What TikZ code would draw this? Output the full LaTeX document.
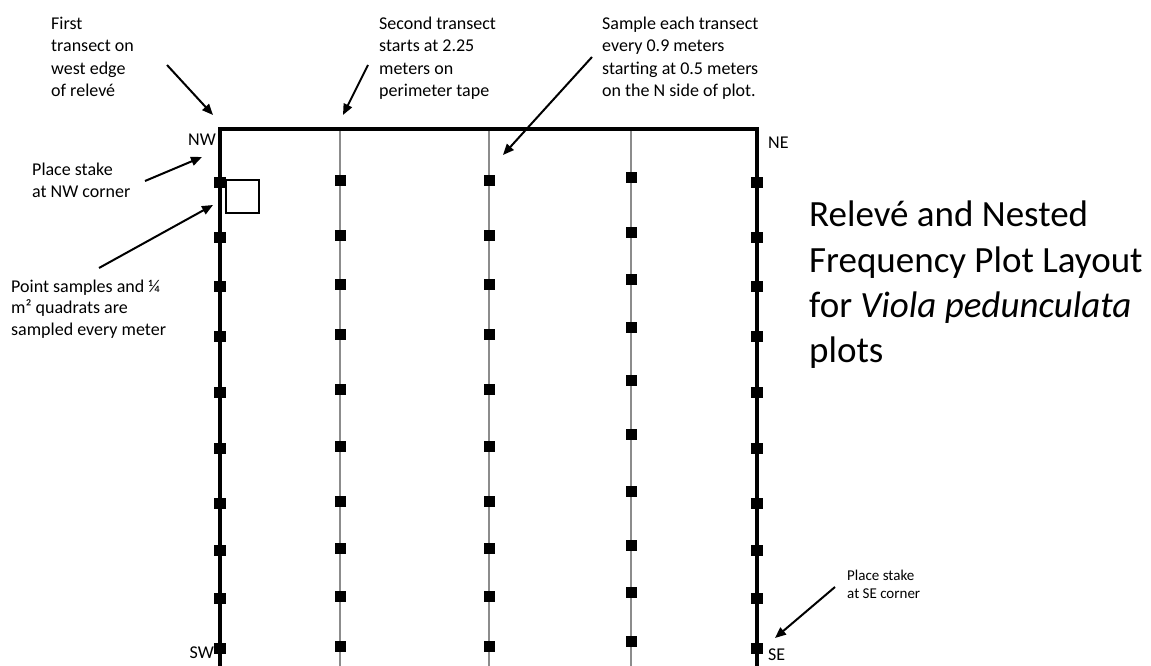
\documentclass[tikz,border=0pt]{standalone}
\usepackage{fontspec}
\setmainfont{Carlito}
\usetikzlibrary{arrows.meta}
\begin{document}
\begin{tikzpicture}[x=1bp,y=-1bp,
  note/.style={font=\fontsize{18bp}{22.5bp}\selectfont, align=left, inner sep=0pt, anchor=base west},
  smallnote/.style={font=\fontsize{15bp}{18bp}\selectfont, align=left, inner sep=0pt, anchor=base west},
  titletext/.style={font=\fontsize{37bp}{45bp}\selectfont, align=left, inner sep=0pt, anchor=base west},
  cornerlbl/.style={font=\fontsize{18bp}{22bp}\selectfont, inner sep=0pt},
  ptr/.style={line width=2bp, -{Triangle[length=11bp,width=9bp]}},
  plotborder/.style={line width=4bp, line join=miter},
  transect/.style={line width=2bp, draw=black!45},
  samplept/.style={fill=black, minimum size=11bp, inner sep=0pt, outer sep=0pt},
  quadrat/.style={draw=black, line width=2.5bp, minimum size=33bp, inner sep=0pt}]
\useasboundingbox (0,0) rectangle (1151,666);
% interior transects
\foreach \xx/\nm in {340/b,489/c,631/d}{
  \draw[transect] (\xx,131) -- (\xx,670);
}
% plot border
\draw[plotborder] (220,670) -- (220,129) -- (757,129) -- (757,670);
% sample points
\foreach \yy [count=\i] in {183,237,286,336,392,448,503,550,598,648}{
  \node[samplept, minimum width=12bp] (a\i) at (220,\yy) {};
  \node[samplept, minimum width=12bp] (e\i) at (757,\yy) {};
}
\foreach \yy [count=\i] in {181,235,284,334,389,446,501,548,596,646}{
  \node[samplept] (b\i) at (340,\yy) {};
  \node[samplept] (c\i) at (489,\yy) {};
}
\foreach \yy [count=\i] in {178,232,279,327,380,434,491,545,592,641}{
  \node[samplept] (d\i) at (631,\yy) {};
}
% quadrat
\node[quadrat] (quad) at (242.5,196.5) {};
% corner labels
\node[cornerlbl, anchor=east] (nw) at (216,140) {NW};
\node[cornerlbl, anchor=west] (ne) at (768,143) {NE};
\node[cornerlbl, anchor=east] (sw) at (214,653) {SW};
\node[cornerlbl, anchor=west] (se) at (768,655) {SE};
% notes (anchored at the baseline of their last line)
\node[note] (first) at (51,97) {First\\transect on\\west edge\\of relevé};
\node[note] (stakenw) at (32,198) {Place stake\\at NW corner};
\node[note, font=\fontsize{18bp}{21.5bp}\selectfont] (points) at (11,335) {Point samples and ¼\\m² quadrats are\\sampled every meter};
\node[note] (second) at (379,97) {Second transect\\starts at 2.25\\meters on\\perimeter tape};
\node[note] (sample) at (602,97) {Sample each transect\\every 0.9 meters\\starting at 0.5 meters\\on the N side of plot.};
\node[smallnote] (stakese) at (847,598) {Place stake\\at SE corner};
\node[titletext] (title) at (809,362) {Relevé and Nested\\Frequency Plot Layout\\for \textit{Viola pedunculata}\\plots};
% arrow end points
\coordinate (p1s) at (167,65);  \coordinate (p1e) at (213,115);
\coordinate (p2s) at (145,181); \coordinate (p2e) at (202,157);
\coordinate (p3s) at (99,268);  \coordinate (p3e) at (213,205);
\coordinate (p4s) at (368,65);  \coordinate (p4e) at (343,115);
\coordinate (p5s) at (592,57);  \coordinate (p5e) at (503,155);
\coordinate (p6s) at (835,587); \coordinate (p6e) at (775,638);
\draw[ptr] (p1s) -- (p1e);
\draw[ptr] (p2s) -- (p2e);
\draw[ptr] (p3s) -- (p3e);
\draw[ptr] (p4s) -- (p4e);
\draw[ptr] (p5s) -- (p5e);
\draw[ptr] (p6s) -- (p6e);
\end{tikzpicture}
\end{document}
